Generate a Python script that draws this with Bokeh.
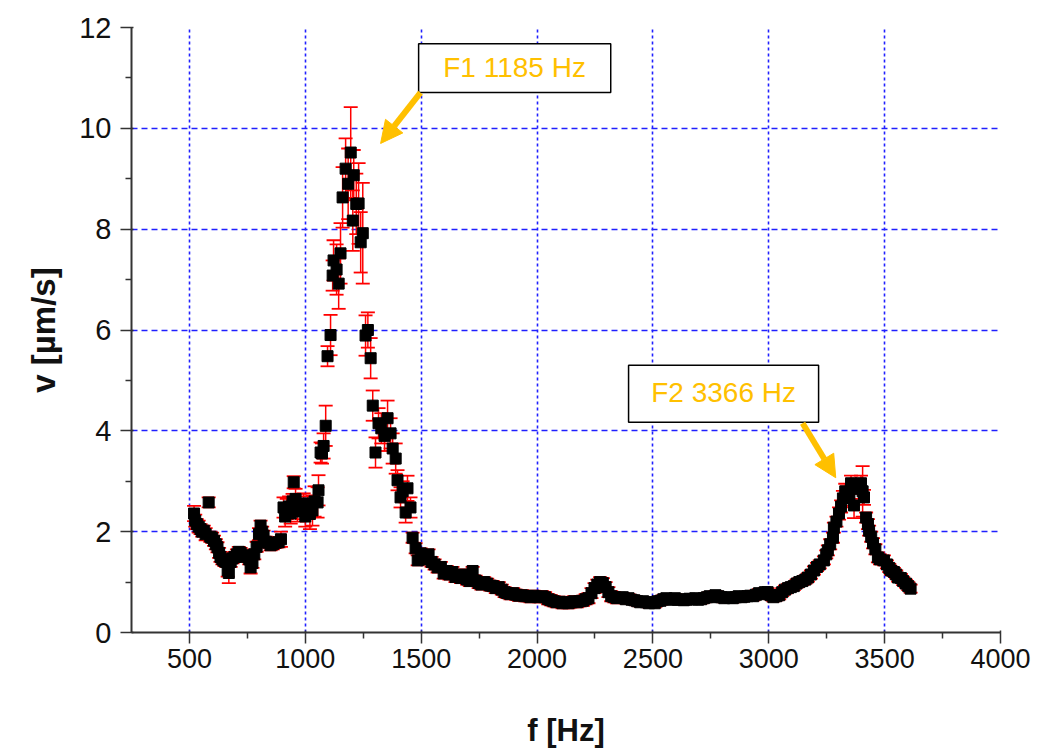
from bokeh.plotting import figure
from bokeh.models import (ColumnDataSource, Whisker, TeeHead, Arrow, NormalHead,
                          FixedTicker, Label, BoxAnnotation, Range1d)
from bokeh.embed import file_html
from bokeh.resources import INLINE

# ---------------- data ----------------
freq_low = [520, 525, 532, 540, 548, 555, 562, 570, 583, 590, 598, 606, 614, 621, 628, 634,
            642, 650, 658, 665, 670, 678, 686, 695, 705, 713, 721, 730, 740, 751, 758, 764,
            772, 780, 790, 800, 807, 814, 820, 830, 840, 850, 860, 872, 885, 895, 906, 913,
            920, 930, 937, 945, 950, 958, 966, 975, 985, 993, 1000, 1010, 1020, 1031, 1040, 1053]
vel_low = [2.36, 2.22, 2.15, 2.10, 2.05, 2.00, 2.02, 1.95, 2.58, 1.90, 1.88, 1.82, 1.75, 1.69, 1.58, 1.50,
           1.45, 1.42, 1.40, 1.23, 1.18, 1.40, 1.47, 1.50, 1.55, 1.60, 1.58, 1.52, 1.50, 1.53, 1.45, 1.29,
           1.38, 1.55, 1.70, 1.95, 2.12, 2.00, 1.92, 1.80, 1.78, 1.73, 1.75, 1.78, 1.79, 1.85, 2.48, 2.30,
           2.45, 2.50, 2.36, 2.60, 2.98, 2.65, 2.40, 2.55, 2.45, 2.56, 2.30, 2.50, 2.35, 2.42, 2.60, 2.58]
err_low = [0.15, 0.12, 0.10, 0.12, 0.10, 0.10, 0.10, 0.12, 0.10, 0.10, 0.10, 0.10, 0.10, 0.10, 0.10, 0.10,
           0.10, 0.10, 0.10, 0.12, 0.20, 0.10, 0.10, 0.10, 0.10, 0.10, 0.10, 0.10, 0.10, 0.10, 0.10, 0.12,
           0.10, 0.10, 0.10, 0.12, 0.10, 0.10, 0.10, 0.10, 0.10, 0.10, 0.10, 0.10, 0.10, 0.15, 0.20, 0.20,
           0.20, 0.20, 0.20, 0.15, 0.12, 0.20, 0.20, 0.20, 0.20, 0.20, 0.20, 0.20, 0.30, 0.30, 0.30, 0.30]

freq_f1 = [1057, 1066, 1072, 1079, 1088, 1096, 1109, 1118, 1122, 1135, 1144, 1152, 1161, 1174, 1185, 1196,
           1205, 1209, 1220, 1230, 1239, 1248, 1260, 1270, 1282, 1291, 1303, 1316, 1328, 1342, 1355, 1368,
           1377, 1390, 1398, 1411, 1420, 1433, 1441, 1454, 1463, 1476, 1485]
vel_f1 = [2.82, 3.57, 3.55, 3.70, 4.10, 5.48, 5.90, 7.08, 7.38, 7.20, 6.92, 7.52, 8.63, 9.20, 8.90, 9.52,
          8.17, 9.07, 8.50, 8.51, 7.74, 7.92, 5.89, 6.00, 5.44, 4.50, 3.57, 4.15, 4.05, 3.90, 4.25, 3.95,
          3.65, 3.45, 3.02, 2.68, 2.80, 2.38, 2.86, 2.48, 1.88, 1.67, 1.43]
err_f1 = [0.30, 0.20, 0.20, 0.25, 0.40, 0.20, 0.40, 0.30, 0.40, 0.50, 0.50, 0.60, 0.60, 0.60, 0.70, 0.90,
          0.60, 0.50, 0.60, 0.80, 0.60, 1.00, 0.40, 0.35, 0.40, 0.30, 0.30, 0.30, 0.30, 0.30, 0.35, 0.30,
          0.30, 0.30, 0.20, 0.20, 0.20, 0.20, 0.25, 0.20, 0.10, 0.10, 0.10]

freq_mid = [1498, 1510, 1520, 1532, 1545, 1558, 1571, 1585, 1597, 1610, 1622, 1635, 1648, 1660, 1672, 1685,
            1698, 1710, 1722, 1735, 1748, 1760, 1772, 1785, 1798, 1810, 1822, 1835, 1848, 1860, 1872, 1885,
            1897, 1910, 1922, 1935, 1948, 1960, 1972, 1985, 1998, 2010, 2022, 2035, 2048, 2060, 2072, 2085,
            2097, 2110, 2122, 2135, 2148, 2160, 2172, 2185, 2198, 2210, 2222, 2235, 2248, 2260, 2272, 2284,
            2296, 2308, 2320, 2333, 2345]
vel_mid = [1.57, 1.50, 1.45, 1.55, 1.40, 1.35, 1.29, 1.30, 1.17, 1.22, 1.15, 1.20, 1.10, 1.12, 1.08, 1.15,
           1.05, 1.02, 1.22, 1.03, 0.98, 0.95, 1.00, 0.97, 0.93, 0.92, 0.88, 0.90, 0.85, 0.80, 0.78, 0.76,
           0.78, 0.75, 0.73, 0.74, 0.72, 0.72, 0.70, 0.73, 0.71, 0.70, 0.72, 0.70, 0.66, 0.64, 0.62, 0.60,
           0.61, 0.58, 0.60, 0.58, 0.60, 0.62, 0.60, 0.62, 0.63, 0.66, 0.68, 0.78, 0.88, 0.95, 1.00, 0.98,
           0.90, 0.80, 0.72, 0.70, 0.68]
err_mid = [0.10, 0.10, 0.10, 0.10, 0.10, 0.10, 0.10, 0.10, 0.10, 0.10, 0.10, 0.10, 0.10, 0.10, 0.10, 0.10,
           0.10, 0.10, 0.08, 0.10, 0.10, 0.10, 0.10, 0.10, 0.10, 0.10, 0.10, 0.10, 0.10, 0.10, 0.10, 0.10,
           0.10, 0.10, 0.10, 0.10, 0.10, 0.10, 0.10, 0.10, 0.10, 0.10, 0.10, 0.10, 0.10, 0.10, 0.10, 0.10,
           0.10, 0.10, 0.10, 0.10, 0.10, 0.10, 0.10, 0.10, 0.10, 0.10, 0.10, 0.10, 0.10, 0.10, 0.10, 0.10,
           0.10, 0.10, 0.10, 0.10, 0.10]

freq_flat = [2358, 2370, 2383, 2395, 2408, 2420, 2432, 2445, 2458, 2470, 2483, 2495, 2508, 2520, 2533, 2545,
             2558, 2570, 2583, 2595, 2608, 2620, 2633, 2645, 2658, 2670, 2683, 2695, 2708, 2720, 2733, 2745,
             2758, 2770, 2783, 2795, 2808, 2820, 2833, 2845, 2858, 2870, 2883, 2895, 2908, 2920, 2933, 2945,
             2958, 2970, 2983, 2995, 3008, 3020, 3033, 3045, 3058]
vel_flat = [0.69, 0.70, 0.66, 0.68, 0.65, 0.64, 0.62, 0.60, 0.62, 0.60, 0.58, 0.60, 0.58, 0.62, 0.63, 0.66,
            0.68, 0.66, 0.65, 0.68, 0.65, 0.66, 0.64, 0.65, 0.67, 0.66, 0.68, 0.65, 0.66, 0.68, 0.70, 0.72,
            0.70, 0.74, 0.72, 0.70, 0.68, 0.70, 0.69, 0.68, 0.70, 0.72, 0.70, 0.71, 0.72, 0.73, 0.72, 0.75,
            0.78, 0.76, 0.80, 0.80, 0.74, 0.70, 0.72, 0.74, 0.80]
err_flat = [0.08, 0.08, 0.08, 0.08, 0.08, 0.08, 0.08, 0.08, 0.08, 0.08, 0.08, 0.08, 0.08, 0.08, 0.08, 0.08,
            0.08, 0.08, 0.08, 0.08, 0.08, 0.08, 0.08, 0.08, 0.08, 0.08, 0.08, 0.08, 0.08, 0.08, 0.08, 0.08,
            0.08, 0.08, 0.08, 0.08, 0.08, 0.08, 0.08, 0.08, 0.08, 0.08, 0.08, 0.08, 0.08, 0.08, 0.08, 0.08,
            0.08, 0.08, 0.08, 0.08, 0.08, 0.08, 0.08, 0.08, 0.08]

freq_f2 = [3070, 3083, 3095, 3108, 3120, 3132, 3145, 3158, 3169, 3182, 3195, 3208, 3220, 3238, 3248, 3255,
           3265, 3277, 3281, 3292, 3303, 3312, 3320, 3330, 3340, 3348, 3355, 3368, 3378, 3388, 3398, 3405,
           3411, 3420, 3428, 3433, 3442, 3450, 3460, 3471, 3480, 3497, 3510, 3520, 3527, 3540, 3550, 3558,
           3570, 3580, 3592, 3602, 3612]
vel_f2 = [0.85, 0.88, 0.90, 0.92, 0.97, 1.00, 1.02, 1.05, 1.09, 1.15, 1.23, 1.30, 1.35, 1.43, 1.55, 1.63,
          1.75, 1.88, 2.08, 2.20, 2.36, 2.50, 2.66, 2.80, 2.75, 2.68, 2.96, 2.52, 2.90, 2.85, 2.96, 2.80,
          2.68, 2.28, 2.15, 2.02, 1.90, 1.77, 1.65, 1.49, 1.45, 1.43, 1.35, 1.28, 1.23, 1.20, 1.15, 1.09,
          1.08, 1.02, 0.97, 0.92, 0.87]
err_f2 = [0.08, 0.08, 0.08, 0.08, 0.08, 0.08, 0.08, 0.08, 0.08, 0.08, 0.08, 0.08, 0.08, 0.08, 0.08, 0.10,
          0.10, 0.10, 0.10, 0.10, 0.12, 0.12, 0.15, 0.15, 0.15, 0.20, 0.15, 0.25, 0.15, 0.20, 0.15, 0.50,
          0.15, 0.10, 0.10, 0.10, 0.10, 0.10, 0.10, 0.10, 0.10, 0.10, 0.08, 0.08, 0.08, 0.08, 0.08, 0.08,
          0.08, 0.08, 0.08, 0.08, 0.08]

x_ticks = [500, 1000, 1500, 2000, 2500, 3000, 3500, 4000]
y_ticks = [0, 2, 4, 6, 8, 10, 12]
peak_labels = ["F1 1185 Hz", "F2 3366 Hz"]

# --------------------------------------------------------------
freq = freq_low + freq_f1 + freq_mid + freq_flat + freq_f2
vel = vel_low + vel_f1 + vel_mid + vel_flat + vel_f2
err = err_low + err_f1 + err_mid + err_flat + err_f2
n = min(len(freq), len(vel), len(err))
freq, vel, err = freq[:n], vel[:n], err[:n]

src = ColumnDataSource(dict(
    f=freq, v=vel,
    lo=[a - b for a, b in zip(vel, err)],
    hi=[a + b for a, b in zip(vel, err)],
))

p = figure(width=1042, height=751, output_backend="svg", toolbar_location=None,
           x_range=Range1d(250, 4000), y_range=Range1d(0, 12),
           min_border_left=131, min_border_right=42, min_border_top=27, min_border_bottom=119)
p.outline_line_color = None
p.background_fill_color = "white"
p.border_fill_color = "white"

# grid
p.xgrid.ticker = FixedTicker(ticks=x_ticks)
p.ygrid.ticker = FixedTicker(ticks=y_ticks)
p.xgrid.grid_line_color = "#2020ff"
p.ygrid.grid_line_color = "#2020ff"
p.xgrid.grid_line_width = 1.6
p.ygrid.grid_line_width = 1.6
p.xgrid.grid_line_dash = "3 3"
p.ygrid.grid_line_dash = "6 4"

# axes
ax = p.xaxis[0]
ay = p.yaxis[0]
ax.ticker = FixedTicker(ticks=x_ticks, minor_ticks=[750, 1250, 1750, 2250, 2750, 3250, 3750])
ay.ticker = FixedTicker(ticks=y_ticks, minor_ticks=[1, 3, 5, 7, 9, 11])
for a in (ax, ay):
    a.axis_line_color = "#333333"
    a.axis_line_width = 2
    a.major_tick_line_color = "#333333"
    a.minor_tick_line_color = "#333333"
    a.major_tick_line_width = 1.5
    a.minor_tick_line_width = 1.5
    a.major_tick_out = 11
    a.major_tick_in = 2
    a.minor_tick_out = 6
    a.minor_tick_in = 0
    a.major_label_text_font = "Liberation Sans"
    a.major_label_text_color = "#111111"
    a.axis_label_text_font = "Liberation Sans"
    a.axis_label_text_font_style = "bold"
    a.axis_label_text_color = "#111111"

ax.major_label_text_font_size = "27px"
ay.major_label_text_font_size = "29px"
ax.major_label_standoff = 5
ay.major_label_standoff = 9
ax.axis_label = "f [Hz]"
ay.axis_label = "v [µm/s]"
ax.axis_label_text_font_size = "31px"
ay.axis_label_text_font_size = "33px"
ax.axis_label_standoff = 42
ay.axis_label_standoff = 14

# data markers + error bars
p.scatter("f", "v", source=src, marker="square", size=11, color="black")
wh = Whisker(base="f", lower="lo", upper="hi", source=src, line_color="red", line_width=1.5,
             upper_head=TeeHead(size=14, line_color="red", line_width=1.8),
             lower_head=TeeHead(size=14, line_color="red", line_width=1.8))
p.add_layout(wh)

# annotations
gold = "#FFC000"
p.add_layout(BoxAnnotation(left=1489, right=2318, bottom=10.71, top=11.68,
                           fill_color="white", fill_alpha=1, line_color="black", line_alpha=1,
                           line_width=1.5))
p.add_layout(BoxAnnotation(left=2395, right=3215, bottom=4.17, top=5.30,
                           fill_color="white", fill_alpha=1, line_color="black", line_alpha=1,
                           line_width=1.5))
p.add_layout(Label(x=1903, y=11.2, text=peak_labels[0], text_align="center", text_baseline="middle",
                   text_font="Liberation Sans", text_font_size="28px", text_color=gold))
p.add_layout(Label(x=2805, y=4.76, text=peak_labels[1], text_align="center", text_baseline="middle",
                   text_font="Liberation Sans", text_font_size="28px", text_color=gold))
p.add_layout(Arrow(x_start=1497, y_start=10.71, x_end=1325, y_end=9.70, line_color=gold, line_width=6,
                   end=NormalHead(size=22, fill_color=gold, line_color=gold)))
p.add_layout(Arrow(x_start=3146, y_start=4.15, x_end=3289, y_end=3.07, line_color=gold, line_width=6,
                   end=NormalHead(size=22, fill_color=gold, line_color=gold)))

open("out.html", "w").write(file_html(p, INLINE))
